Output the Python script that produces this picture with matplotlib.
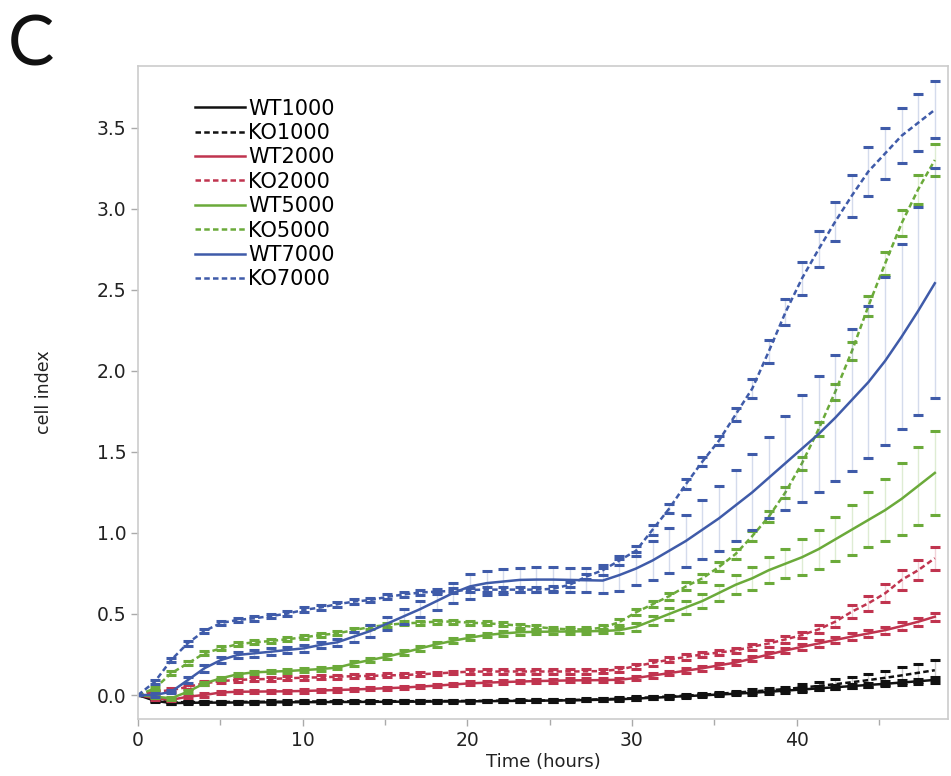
import numpy as np
import matplotlib.pyplot as plt
from matplotlib.ticker import MultipleLocator, FormatStrFormatter

### Sampling times (hours), one reading per ~hour
hours = np.linspace(0, 48.4, 49)

### Mean cell index per group
wt1000 = [0.0, -0.035, -0.05, -0.048, -0.047, -0.047, -0.046, -0.046, -0.045, -0.045,
          -0.044, -0.044, -0.043, -0.043, -0.042, -0.042, -0.041, -0.041, -0.040, -0.040,
          -0.039, -0.038, -0.037, -0.036, -0.035, -0.034, -0.033, -0.031, -0.029, -0.026,
          -0.022, -0.017, -0.012, -0.007, -0.002, 0.003, 0.008, 0.014, 0.020, 0.027,
          0.034, 0.041, 0.048, 0.055, 0.062, 0.069, 0.077, 0.085, 0.093]
ko1000 = [0.0, -0.03, -0.045, -0.044, -0.043, -0.043, -0.042, -0.042, -0.041, -0.041,
          -0.040, -0.040, -0.039, -0.039, -0.039, -0.038, -0.038, -0.038, -0.037, -0.037,
          -0.036, -0.036, -0.035, -0.035, -0.034, -0.033, -0.031, -0.029, -0.026, -0.023,
          -0.019, -0.014, -0.009, -0.004, 0.002, 0.008, 0.015, 0.022, 0.029, 0.037,
          0.046, 0.056, 0.067, 0.079, 0.092, 0.106, 0.121, 0.137, 0.153]
wt2000 = [0.0, -0.02, -0.03, -0.01, 0.0, 0.016, 0.02, 0.021, 0.022, 0.023,
          0.025, 0.028, 0.031, 0.034, 0.038, 0.042, 0.046, 0.052, 0.058, 0.065,
          0.072, 0.076, 0.080, 0.083, 0.086, 0.088, 0.090, 0.091, 0.092, 0.094,
          0.105, 0.120, 0.135, 0.150, 0.165, 0.183, 0.200, 0.225, 0.250, 0.275,
          0.297, 0.318, 0.340, 0.360, 0.380, 0.400, 0.425, 0.452, 0.483]
ko2000 = [0.0, 0.02, 0.03, 0.05, 0.072, 0.086, 0.093, 0.097, 0.099, 0.103,
          0.107, 0.109, 0.113, 0.116, 0.118, 0.121, 0.123, 0.128, 0.133, 0.139,
          0.144, 0.145, 0.145, 0.145, 0.145, 0.145, 0.145, 0.146, 0.148, 0.158,
          0.178, 0.198, 0.218, 0.235, 0.250, 0.262, 0.275, 0.298, 0.318, 0.343,
          0.370, 0.405, 0.452, 0.514, 0.566, 0.627, 0.710, 0.770, 0.844]
wt5000 = [0.0, -0.01, -0.02, 0.02, 0.072, 0.103, 0.128, 0.14, 0.144, 0.148,
          0.154, 0.16, 0.169, 0.195, 0.216, 0.237, 0.261, 0.288, 0.313, 0.335,
          0.354, 0.37, 0.38, 0.387, 0.39, 0.391, 0.392, 0.393, 0.395, 0.40,
          0.42, 0.46, 0.50, 0.54, 0.58, 0.63, 0.68, 0.72, 0.77, 0.81,
          0.85, 0.90, 0.96, 1.02, 1.08, 1.14, 1.21, 1.29, 1.37]
ko5000 = [0.0, 0.04, 0.134, 0.195, 0.257, 0.288, 0.313, 0.325, 0.333, 0.344,
          0.356, 0.37, 0.38, 0.40, 0.42, 0.432, 0.442, 0.446, 0.453, 0.453,
          0.446, 0.442, 0.436, 0.428, 0.42, 0.41, 0.405, 0.405, 0.415, 0.45,
          0.51, 0.56, 0.61, 0.67, 0.72, 0.79, 0.87, 0.98, 1.10, 1.25,
          1.43, 1.64, 1.87, 2.12, 2.40, 2.66, 2.91, 3.12, 3.30]
wt7000 = [0.0, 0.0, 0.02, 0.092, 0.165, 0.216, 0.247, 0.257, 0.267, 0.278,
          0.288, 0.309, 0.325, 0.36, 0.395, 0.44, 0.485, 0.53, 0.58, 0.63,
          0.67, 0.69, 0.70, 0.71, 0.712, 0.712, 0.71, 0.708, 0.706, 0.74,
          0.78, 0.83, 0.89, 0.95, 1.02, 1.09, 1.17, 1.25, 1.34, 1.43,
          1.52, 1.61, 1.71, 1.82, 1.93, 2.06, 2.21, 2.37, 2.54]
ko7000 = [0.0, 0.08, 0.216, 0.32, 0.395, 0.444, 0.463, 0.473, 0.487, 0.502,
          0.525, 0.54, 0.56, 0.576, 0.586, 0.605, 0.62, 0.632, 0.638, 0.642,
          0.648, 0.65, 0.65, 0.65, 0.65, 0.655, 0.68, 0.73, 0.77, 0.83,
          0.89, 1.02, 1.15, 1.30, 1.44, 1.57, 1.73, 1.89, 2.12, 2.36,
          2.57, 2.75, 2.92, 3.08, 3.23, 3.34, 3.45, 3.53, 3.61]

### Error bar half-widths
wt1000_sd = [0.0, 0.008, 0.008, 0.008, 0.008, 0.008, 0.008, 0.008, 0.008, 0.008,
             0.008, 0.008, 0.008, 0.008, 0.008, 0.008, 0.008, 0.008, 0.008, 0.008,
             0.008, 0.008, 0.008, 0.008, 0.008, 0.008, 0.008, 0.009, 0.009, 0.009,
             0.010, 0.010, 0.010, 0.010, 0.011, 0.011, 0.011, 0.012, 0.012, 0.012,
             0.013, 0.013, 0.014, 0.014, 0.015, 0.015, 0.016, 0.016, 0.017]
ko1000_sd = [0.0, 0.008, 0.008, 0.008, 0.008, 0.008, 0.008, 0.008, 0.008, 0.008,
             0.008, 0.008, 0.008, 0.008, 0.008, 0.008, 0.008, 0.008, 0.008, 0.008,
             0.008, 0.008, 0.008, 0.008, 0.008, 0.008, 0.008, 0.009, 0.009, 0.009,
             0.010, 0.010, 0.010, 0.010, 0.011, 0.011, 0.011, 0.012, 0.012, 0.015,
             0.020, 0.025, 0.030, 0.035, 0.040, 0.045, 0.050, 0.055, 0.060]
wt2000_sd = [0.0, 0.010, 0.010, 0.010, 0.010, 0.010, 0.010, 0.010, 0.010, 0.010,
             0.010, 0.010, 0.010, 0.010, 0.010, 0.010, 0.010, 0.010, 0.010, 0.010,
             0.012, 0.012, 0.012, 0.012, 0.012, 0.012, 0.012, 0.012, 0.012, 0.013,
             0.013, 0.014, 0.014, 0.015, 0.015, 0.016, 0.016, 0.017, 0.017, 0.018,
             0.018, 0.019, 0.019, 0.020, 0.021, 0.022, 0.023, 0.024, 0.025]
ko2000_sd = [0.0, 0.012, 0.012, 0.012, 0.012, 0.012, 0.012, 0.012, 0.012, 0.012,
             0.012, 0.012, 0.012, 0.012, 0.012, 0.012, 0.012, 0.012, 0.012, 0.012,
             0.014, 0.014, 0.014, 0.014, 0.014, 0.014, 0.014, 0.014, 0.014, 0.015,
             0.015, 0.016, 0.016, 0.017, 0.017, 0.018, 0.018, 0.019, 0.019, 0.020,
             0.020, 0.025, 0.030, 0.040, 0.045, 0.055, 0.060, 0.060, 0.070]
wt5000_sd = [0.0, 0.010, 0.010, 0.010, 0.010, 0.010, 0.010, 0.010, 0.010, 0.010,
             0.010, 0.010, 0.010, 0.015, 0.015, 0.015, 0.015, 0.015, 0.015, 0.015,
             0.015, 0.015, 0.015, 0.015, 0.015, 0.015, 0.015, 0.015, 0.015, 0.020,
             0.025, 0.030, 0.035, 0.040, 0.045, 0.050, 0.060, 0.070, 0.080, 0.090,
             0.110, 0.120, 0.135, 0.155, 0.170, 0.190, 0.220, 0.240, 0.260]
ko5000_sd = [0.0, 0.012, 0.012, 0.012, 0.012, 0.012, 0.012, 0.012, 0.012, 0.012,
             0.012, 0.012, 0.012, 0.012, 0.012, 0.012, 0.012, 0.012, 0.012, 0.012,
             0.012, 0.012, 0.012, 0.012, 0.012, 0.012, 0.012, 0.012, 0.014, 0.016,
             0.018, 0.020, 0.022, 0.024, 0.026, 0.028, 0.030, 0.032, 0.034, 0.036,
             0.040, 0.045, 0.050, 0.055, 0.060, 0.070, 0.080, 0.090, 0.100]
wt7000_sd = [0.0, 0.010, 0.010, 0.020, 0.020, 0.020, 0.020, 0.020, 0.020, 0.020,
             0.020, 0.020, 0.020, 0.030, 0.035, 0.040, 0.045, 0.050, 0.055, 0.060,
             0.075, 0.075, 0.075, 0.075, 0.075, 0.075, 0.075, 0.075, 0.075, 0.100,
             0.100, 0.120, 0.140, 0.160, 0.180, 0.200, 0.220, 0.235, 0.250, 0.290,
             0.330, 0.360, 0.390, 0.440, 0.470, 0.520, 0.570, 0.640, 0.710]
ko7000_sd = [0.0, 0.015, 0.015, 0.015, 0.015, 0.015, 0.015, 0.015, 0.015, 0.015,
             0.015, 0.015, 0.015, 0.015, 0.015, 0.015, 0.015, 0.015, 0.015, 0.015,
             0.015, 0.015, 0.015, 0.015, 0.015, 0.015, 0.015, 0.015, 0.030, 0.030,
             0.030, 0.030, 0.030, 0.030, 0.030, 0.030, 0.040, 0.060, 0.070, 0.080,
             0.100, 0.110, 0.120, 0.130, 0.150, 0.160, 0.170, 0.175, 0.175]

black = "#111111"
red = "#C0344F"
green = "#6BAA3A"
blue = "#3F5BA9"
dashed = (0, (2.2, 1.3))

series = [
    ("WT1000", wt1000, wt1000_sd, black, "-"),
    ("KO1000", ko1000, ko1000_sd, black, dashed),
    ("WT2000", wt2000, wt2000_sd, red, "-"),
    ("KO2000", ko2000, ko2000_sd, red, dashed),
    ("WT5000", wt5000, wt5000_sd, green, "-"),
    ("KO5000", ko5000, ko5000_sd, green, dashed),
    ("WT7000", wt7000, wt7000_sd, blue, "-"),
    ("KO7000", ko7000, ko7000_sd, blue, dashed),
]

fig = plt.figure(figsize=(9.51, 7.76), dpi=100)
ax = fig.add_axes([138 / 951, 57 / 776, 810 / 951, 653 / 776])

for label, vals, sd, color, ls in series:
    eb = ax.errorbar(hours, vals, yerr=sd, fmt="none", ecolor=color,
                     elinewidth=1.0, capsize=3.5, capthick=2.2)
    eb[2][0].set_alpha(0.22)
    ax.plot(hours, vals, color=color, ls=ls, lw=1.8, label=label)

ax.set_xlim(0, 49.2)
ax.set_ylim(-0.148, 3.88)
ax.xaxis.set_major_locator(MultipleLocator(10))
ax.xaxis.set_minor_locator(MultipleLocator(5))
ax.yaxis.set_major_locator(MultipleLocator(0.5))
ax.yaxis.set_major_formatter(FormatStrFormatter("%.1f"))

for sp in ax.spines.values():
    sp.set_color("#CCCCCC")
    sp.set_linewidth(1.2)
ax.tick_params(which="major", direction="out", length=5, width=1,
               color="#AAAAAA", labelcolor="#222222", labelsize=13.5)
ax.tick_params(which="minor", direction="out", length=4, width=1, color="#AAAAAA")

ax.set_xlabel("Time (hours)", fontsize=13, color="#222222")
ax.set_ylabel("cell index", fontsize=12.5, color="#222222")
ax.xaxis.set_label_coords(0.5, -0.052)
ax.yaxis.set_label_coords(-0.105, 0.5)

ax.legend(loc="upper left", bbox_to_anchor=(0.07, 0.95), frameon=False,
          fontsize=15, handlelength=2.4, handletextpad=0.15,
          labelspacing=0.21, borderpad=0, borderaxespad=0)

fig.text(8 / 951, 1 - 14 / 776, "C", fontsize=50, va="top", ha="left",
         family="Lato", color="#111111")

fig.savefig("out.png", dpi=100)
